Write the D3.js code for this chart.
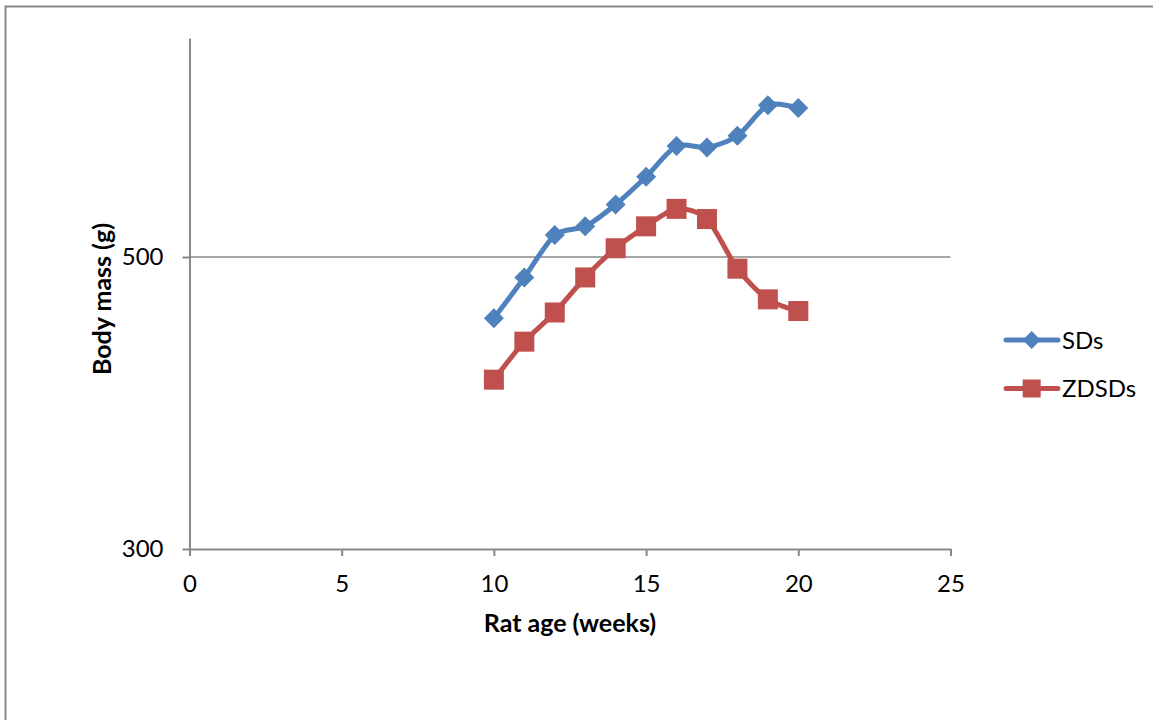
<!DOCTYPE html>
<html>
<head>
<meta charset="utf-8">
<script src="https://cdn.jsdelivr.net/npm/d3@7"></script>
<style>
  html, body { margin: 0; padding: 0; background: #fff; }
  svg { display: block; font-family: Lato, "Open Sans", sans-serif; }
</style>
</head>
<body>
<svg id="chart" width="1153" height="720"></svg>
<script>
// Body mass of two rat strains by age
const ageWeeks = [10, 11, 12, 13, 14, 15, 16, 17, 18, 19, 20];
const sdsMass = [458, 486, 515, 521, 536, 555, 576, 575, 583, 604, 602];
const zdsdsMass = [416, 442, 462, 486, 506, 521, 533, 526, 492, 471, 463];
const seriesNames = ["SDs", "ZDSDs"];
const xTicks = [0, 5, 10, 15, 20, 25];
const yTicks = [300, 500];

const svg = d3.select("#chart");
const axisColor = "#888888";
const colors = { SDs: "#4F81BD", ZDSDs: "#C0504D" };

// chart area frame
svg.append("rect")
  .attr("x", 5.5).attr("y", 6.5)
  .attr("width", 1300).attr("height", 900)
  .attr("fill", "none").attr("stroke", axisColor).attr("stroke-width", 2);

const x = d3.scaleLinear().domain([0, 25]).range([189.5, 950.5]);
const y = d3.scaleLinear().domain([300, 650]).range([549, 38]);

// horizontal gridline at 500
svg.append("line")
  .attr("x1", x(0)).attr("x2", x(25))
  .attr("y1", y(500)).attr("y2", y(500))
  .attr("stroke", axisColor).attr("stroke-width", 1.6);

// x axis
const gx = svg.append("g")
  .attr("transform", `translate(0,${y(300)})`)
  .call(d3.axisBottom(x).tickValues(xTicks).tickSize(7).tickPadding(19).tickSizeOuter(0));
// y axis
const gy = svg.append("g")
  .attr("transform", `translate(${x(0)},0)`)
  .call(d3.axisLeft(y).tickValues(yTicks).tickSize(7).tickPadding(19).tickSizeOuter(0));

[gx, gy].forEach(g => {
  g.select(".domain").attr("stroke", axisColor).attr("stroke-width", 2);
  g.selectAll(".tick line").attr("stroke", axisColor).attr("stroke-width", 2);
  g.selectAll(".tick text")
    .attr("fill", "#000")
    .style("font-family", "Lato, 'Open Sans', sans-serif")
    .style("font-size", "24px");
});
gy.selectAll(".tick text").attr("dy", "0.3em");

// axis titles
svg.append("text")
  .attr("x", (x(0) + x(25)) / 2).attr("y", 632)
  .attr("text-anchor", "middle")
  .style("font-size", "25px").style("font-weight", "bold")
  .text("Rat age (weeks)");

svg.append("text")
  .attr("transform", "translate(111,299) rotate(-90)")
  .attr("text-anchor", "middle")
  .style("font-size", "25px").style("font-weight", "bold")
  .text("Body mass (g)");

const line = d3.line()
  .x(d => x(d[0]))
  .y(d => y(d[1]))
  .curve(d3.curveCardinal.tension(0.2));

const series = [
  { name: "SDs", values: ageWeeks.map((a, i) => [a, sdsMass[i]]), marker: "diamond" },
  { name: "ZDSDs", values: ageWeeks.map((a, i) => [a, zdsdsMass[i]]), marker: "square" }
];

function drawMarker(g, kind, cx, cy, color, size) {
  if (kind === "diamond") {
    g.append("path")
      .attr("d", `M${cx},${cy - size}L${cx + size},${cy}L${cx},${cy + size}L${cx - size},${cy}Z`)
      .attr("fill", color);
  } else {
    g.append("rect")
      .attr("x", cx - size).attr("y", cy - size)
      .attr("width", size * 2).attr("height", size * 2)
      .attr("fill", color);
  }
}

series.forEach(s => {
  const color = colors[s.name];
  svg.append("path")
    .datum(s.values)
    .attr("d", line)
    .attr("fill", "none")
    .attr("stroke", color)
    .attr("stroke-width", 5)
    .attr("stroke-linejoin", "round")
    .attr("stroke-linecap", "round");
  const mg = svg.append("g");
  s.values.forEach(d => drawMarker(mg, s.marker, x(d[0]), y(d[1]), color, 10));
});

// legend
const legendRows = [340, 388.5];
series.forEach((s, i) => {
  const color = colors[s.name];
  const ly = legendRows[i];
  svg.append("line")
    .attr("x1", 1006).attr("x2", 1058)
    .attr("y1", ly).attr("y2", ly)
    .attr("stroke", color).attr("stroke-width", 5)
    .attr("stroke-linecap", "round");
  drawMarker(svg, s.marker, 1031.7, ly, color, 9);
  svg.append("text")
    .attr("x", 1062).attr("y", ly + 8.5)
    .style("font-size", "24px")
    .text(seriesNames[i]);
});
</script>
</body>
</html>
